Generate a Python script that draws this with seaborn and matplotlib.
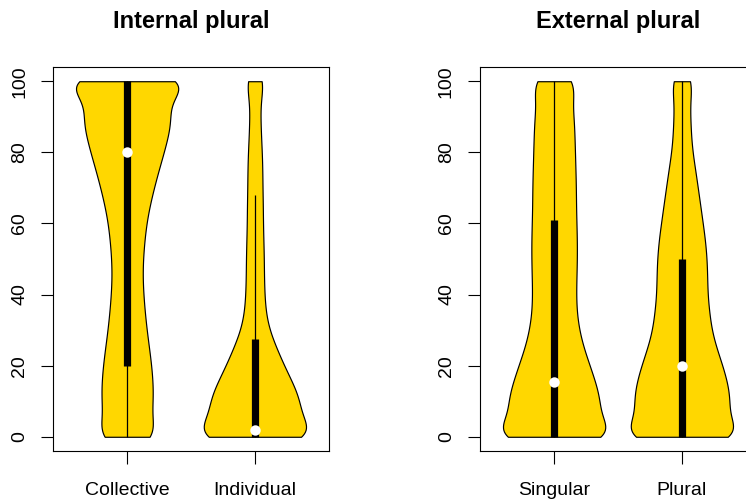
import numpy as np
import pandas as pd
import matplotlib
matplotlib.use("Agg")
import matplotlib.pyplot as plt
import seaborn as sns

# ---------------- data ----------------
score_values = [0, 5, 10, 15, 20, 25, 30, 35, 40, 45, 50,
                55, 60, 65, 70, 75, 80, 85, 90, 95, 100]

internal_categories = ["Collective", "Individual"]
external_categories = ["Singular", "Plural"]

# number of responses at each score value
collective_counts = [70, 48, 55, 54, 51, 46, 41, 37, 34, 32, 33,
                     36, 40, 47, 56, 66, 77, 87, 95, 80, 160]
individual_counts = [140, 88, 93, 76, 58, 43, 28, 21, 19, 18, 18,
                     17, 16, 16, 15, 15, 14, 12, 11, 10, 22]
singular_counts = [142, 88, 95, 84, 72, 59, 50, 45, 44, 45, 46,
                   46, 45, 44, 44, 43, 42, 41, 40, 34, 50]
plural_counts = [140, 88, 99, 92, 82, 69, 59, 55, 51, 51, 50,
                 47, 42, 37, 32, 27, 21, 18, 17, 15, 25]

# box summaries
internal_q1 = [20, 0]
internal_median = [80, 2]
internal_q3 = [100, 27.4]
internal_whisker_low = [0, 0]
internal_whisker_high = [100, 68]

external_q1 = [0, 0]
external_median = [15.5, 20]
external_q3 = [61, 50]
external_whisker_low = [0, 0]
external_whisker_high = [100, 100]

y_ticks = [0, 20, 40, 60, 80, 100]

# ---------------- style ----------------
sns.set_theme(style="ticks")
plt.rcParams["font.family"] = ["Liberation Sans", "DejaVu Sans"]
plt.rcParams["text.color"] = "black"
plt.rcParams["axes.labelcolor"] = "black"
plt.rcParams["xtick.color"] = "black"
plt.rcParams["ytick.color"] = "black"

GOLD = "#FFD700"

fig = plt.figure(figsize=(7.46, 5.0), dpi=100)
ax_left = fig.add_axes([53 / 746, 49 / 500, 276 / 746, 384 / 500])
ax_right = fig.add_axes([480 / 746, 49 / 500, 276 / 746, 384 / 500])

panels = [
    (ax_left, "Internal plural", internal_categories,
     [collective_counts, individual_counts],
     internal_q1, internal_median, internal_q3,
     internal_whisker_low, internal_whisker_high),
    (ax_right, "External plural", external_categories,
     [singular_counts, plural_counts],
     external_q1, external_median, external_q3,
     external_whisker_low, external_whisker_high),
]

for (ax, title, cats, counts_list, q1s, meds, q3s, wlo, whi) in panels:
    for cat, counts in zip(cats, counts_list):
        vals = np.repeat(score_values, counts).astype(float)
        df = pd.DataFrame({"group": cat, "score": vals})
        bw = 4.0 / np.std(vals, ddof=1)
        sns.violinplot(data=df, x="group", y="score", order=cats,
                       cut=0, inner=None, density_norm="width", width=0.8,
                       color=GOLD, saturation=1, linecolor="black",
                       linewidth=0.85, bw_method=bw, gridsize=200, ax=ax)
    for i in range(len(cats)):
        ax.vlines(i, wlo[i], whi[i], color="black", linewidth=0.9, zorder=3)
        ax.vlines(i, q1s[i], q3s[i], color="black", linewidth=5.2,
                  zorder=4, capstyle="butt")
        ax.plot([i], [meds[i]], marker="o", markersize=7.5, color="white",
                markeredgewidth=0, zorder=5, linestyle="none")

    ax.set_xlim(-0.58, 1.58)
    ax.set_ylim(-4, 104)
    ax.set_yticks(y_ticks)
    ax.set_yticklabels([str(t) for t in y_ticks])
    ax.set_xlabel("")
    ax.set_ylabel("")
    ax.set_title(title, fontsize=17, fontweight="bold", pad=28, color="black")
    for sp in ax.spines.values():
        sp.set_visible(True)
        sp.set_color("black")
        sp.set_linewidth(0.8)
    ax.tick_params(axis="both", which="major", length=9, width=0.8,
                   color="black", labelsize=14, pad=9, direction="out",
                   labelcolor="black")
    ax.tick_params(axis="x", pad=13)
    for lbl in ax.get_yticklabels():
        lbl.set_rotation(90)
        lbl.set_va("center")
        lbl.set_ha("right")
    ax.grid(False)

fig.savefig("out.png", dpi=100)
